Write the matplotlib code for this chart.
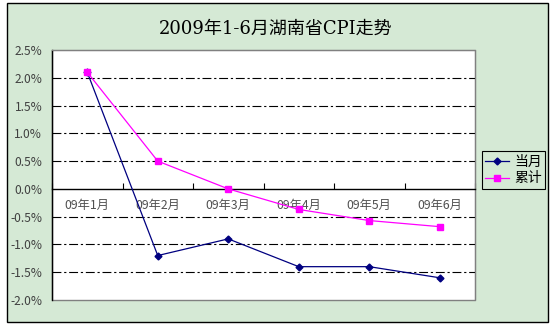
import matplotlib.pyplot as plt
from matplotlib.patches import Rectangle
from matplotlib.ticker import FixedLocator, FuncFormatter

plt.rcParams['font.family'] = ['Noto Sans CJK SC', 'DejaVu Sans']

months = ['09年1月', '09年2月', '09年3月', '09年4月', '09年5月', '09年6月']
dangyue = [2.1, -1.2, -0.9, -1.4, -1.4, -1.6]
leiji = [2.1, 0.5, 0.0, -0.37, -0.57, -0.68]
yticks = [-2.0, -1.5, -1.0, -0.5, 0.0, 0.5, 1.0, 1.5, 2.0, 2.5]

bg = '#d5e9d5'
fig = plt.figure(figsize=(5.58, 3.25), dpi=100)
fig.patch.set_facecolor('white')
# chart area frame
frame = Rectangle((7 / 558, 3 / 325), 541 / 558, 319 / 325, transform=fig.transFigure,
                  facecolor=bg, edgecolor='black', linewidth=1.0, zorder=-10)
fig.patches.append(frame)

ax = fig.add_axes([52 / 558, 25 / 325, 423 / 558, 250 / 325])
ax.set_facecolor('white')
x = list(range(len(months)))

# gridlines
for v in yticks[1:-1]:
    if v == 0:
        continue
    ax.axhline(v, color='black', linewidth=0.8, linestyle=(0, (8, 2.5, 2, 2.5)), zorder=1)

ax.plot(x, dangyue, color='#000080', linewidth=0.9, marker='D', markersize=3.5,
        markerfacecolor='#000080', markeredgecolor='#000080', label='当月', zorder=3)
ax.plot(x, leiji, color='#ff00ff', linewidth=0.9, marker='s', markersize=5,
        markerfacecolor='#ff00ff', markeredgecolor='#ff00ff', label='累计', zorder=3)

ax.set_xlim(-0.5, len(months) - 0.5)
ax.set_ylim(-2.0, 2.5)

ax.spines['bottom'].set_position(('data', 0))
ax.spines['bottom'].set_color('black')
ax.spines['bottom'].set_linewidth(1.0)
ax.spines['left'].set_color('black')
ax.spines['left'].set_linewidth(1.0)
for s in ['top', 'right']:
    ax.spines[s].set_color('#808080')
ax.add_patch(Rectangle((0, 0), 1, 1, transform=ax.transAxes, fill=False,
                       edgecolor='#808080', linewidth=1.0, zorder=0.5, clip_on=False))

ax.xaxis.set_major_locator(FixedLocator([i - 0.5 for i in range(len(months) + 1)]))
ax.xaxis.set_major_formatter(FuncFormatter(lambda v, p: ''))
ax.xaxis.set_minor_locator(FixedLocator(x))
ax.set_xticklabels(months, minor=True)
ax.tick_params(axis='x', which='major', direction='in', length=4, color='black')
ax.tick_params(axis='x', which='minor', length=0, pad=7, labelsize=8.8, labelcolor='#505050')

ax.set_yticks(yticks)
ax.set_yticklabels(['%.1f%%' % v for v in yticks])
ax.tick_params(axis='y', length=0, pad=7, labelsize=8.6, labelcolor='#404040')

fig.text(276 / 558, 1 - 29 / 325, '2009年1-6月湖南省CPI走势', ha='center', va='center',
         fontsize=13, family=['DejaVu Serif', 'Noto Sans CJK SC'])

leg = fig.legend(loc='center', bbox_to_anchor=(513.5 / 558, 1 - 170 / 325), frameon=True,
                 fontsize=10, handlelength=1.7, handletextpad=0.4, borderpad=0.25,
                 labelspacing=0.2, fancybox=False, framealpha=1, borderaxespad=0)
leg.get_frame().set_edgecolor('black')
leg.get_frame().set_facecolor(bg)
leg.get_frame().set_linewidth(0.8)

fig.savefig('out.png', dpi=100, facecolor=fig.get_facecolor())
